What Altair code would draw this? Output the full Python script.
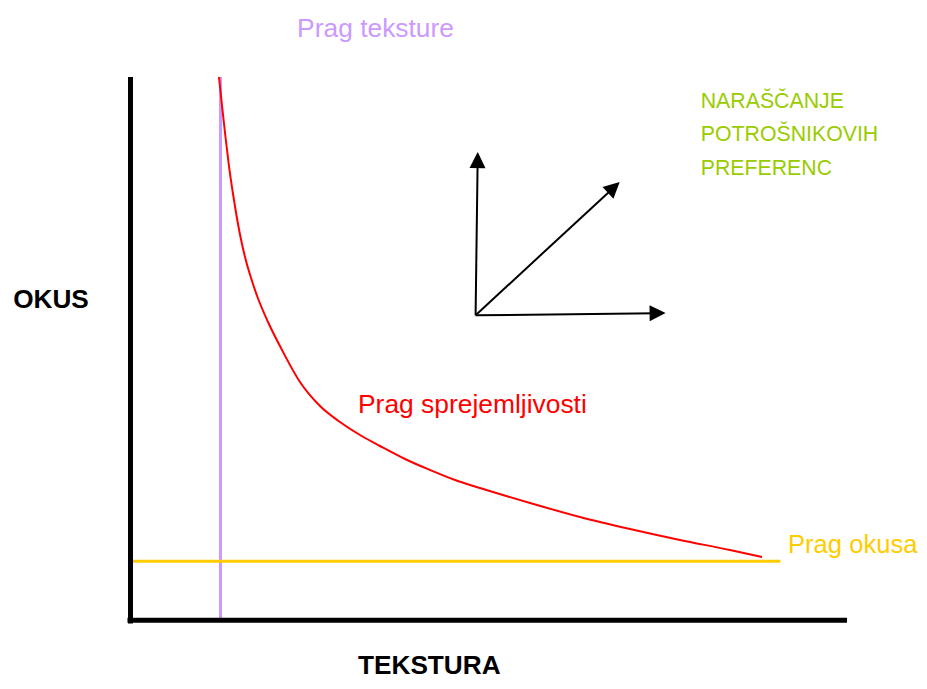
import math
import altair as alt
import pandas as pd

# ---- data (chart units: TEKSTURA 0..100, OKUS 0..100) ----
curve_x = [12.41, 12.90, 13.32, 13.88, 14.57, 15.27, 16.04, 16.88, 17.78, 19.25,
           21.20, 23.71, 26.50, 29.29, 32.08, 34.87, 38.35, 41.84, 45.33, 48.81,
           55.79, 62.76, 69.74, 76.71, 83.68, 88.15]
curve_y = [100.0, 93.93, 88.97, 82.90, 76.84, 71.51, 66.91, 63.05, 59.56, 54.96,
           49.82, 43.93, 39.52, 36.58, 34.19, 32.17, 29.78, 27.76, 25.92, 24.45,
           21.69, 19.12, 16.91, 14.89, 13.05, 11.76]

texture_threshold = 12.62      # Prag teksture (vertical)
texture_line_y = [0.0, 100.0]
taste_threshold = 11.0         # Prag okusa (horizontal)
taste_line_x = [0.3, 90.7]

arrow_origin_x = 48.2
arrow_origin_y = 56.2
arrow_tip_x = [48.5, 68.3, 74.7]
arrow_tip_y = [86.2, 80.7, 56.6]

axis_x_range = [-0.35, 100.0]
axis_y_range = [-0.45, 100.0]

label_texts = ["Prag teksture", "Prag okusa", "Prag sprejemljivosti"]
label_x = [23.3, 91.77, 31.8]
label_y = [107.4, 12.5, 38.2]

pref_lines = ["NARAŠČANJE", "POTROŠNIKOVIH", "PREFERENC"]
pref_x = [79.6, 79.6, 79.6]
pref_y = [94.3, 88.2, 82.0]

axis_titles = ["OKUS", "TEKSTURA"]
axis_title_x = [-16.3, 31.8]
axis_title_y = [57.5, -9.74]

# ---- layout ----
W, H = 717, 544
FONT = "Liberation Sans"

xs = alt.Scale(domain=[0, 100], nice=False, zero=False)
ys = alt.Scale(domain=[0, 100], nice=False, zero=False)

def X(f, **kw):
    return alt.X(f, type="quantitative", scale=xs, axis=None, **kw)

def Y(f, **kw):
    return alt.Y(f, type="quantitative", scale=ys, axis=None, **kw)

# axes frame
axes_df = pd.DataFrame({
    "x": [0.07, axis_x_range[0]],
    "x2": [0.07, axis_x_range[1]],
    "y": [axis_y_range[0], 0.15],
    "y2": [axis_y_range[1], 0.15],
})
axes = alt.Chart(axes_df).mark_rule(color="black", strokeWidth=5, strokeCap="butt").encode(
    x=X("x"), x2="x2", y=Y("y"), y2="y2")

tex_df = pd.DataFrame({"x": [texture_threshold], "y": [texture_line_y[0]], "y2": [texture_line_y[1]]})
tex_line = alt.Chart(tex_df).mark_rule(color="#CC99FF", strokeWidth=3).encode(
    x=X("x"), y=Y("y"), y2="y2")

taste_df = pd.DataFrame({"y": [taste_threshold], "x": [taste_line_x[0]], "x2": [taste_line_x[1]]})
taste_line = alt.Chart(taste_df).mark_rule(color="#FFCC00", strokeWidth=3).encode(
    y=Y("y"), x=X("x"), x2="x2")

curve_df = pd.DataFrame({"x": curve_x, "y": curve_y})
curve = alt.Chart(curve_df).mark_line(color="#FF0000", strokeWidth=2, interpolate="monotone").encode(
    x=X("x"), y=Y("y"))

# arrows
rows = []
for tx, ty in zip(arrow_tip_x, arrow_tip_y):
    dx_px = (tx - arrow_origin_x) * W / 100
    dy_px = (ty - arrow_origin_y) * H / 100
    ang = math.degrees(math.atan2(dx_px, dy_px))
    rows.append({
        "x": arrow_origin_x, "y": arrow_origin_y,
        "x2": arrow_origin_x + 0.95 * (tx - arrow_origin_x),
        "y2": arrow_origin_y + 0.95 * (ty - arrow_origin_y),
        "tx": tx, "ty": ty, "angle": ang,
    })
arrow_df = pd.DataFrame(rows)
shafts = alt.Chart(arrow_df).mark_rule(color="black", strokeWidth=2).encode(
    x=X("x"), y=Y("y"), x2="x2", y2="y2")
heads = alt.Chart(arrow_df).mark_point(
    shape="M0,0L-0.5,1L0.5,1Z", filled=True, color="black", opacity=1, size=1024, strokeWidth=0
).encode(x=X("tx"), y=Y("ty"), angle=alt.Angle("angle:Q", scale=None))

# texts
def text_layer(texts, tx, ty, color, size, weight="normal"):
    df = pd.DataFrame({"t": texts, "x": tx, "y": ty})
    return alt.Chart(df).mark_text(
        align="left", baseline="alphabetic", font=FONT, fontSize=size,
        fontWeight=weight, color=color
    ).encode(x=X("x"), y=Y("y"), text="t:N")

lab_colors = ["#CC99FF", "#FFCC00", "#FF0000"]
lab_sizes = [26.4, 25.6, 26.4]
labels = [text_layer([t], [x], [y], c, s)
          for t, x, y, c, s in zip(label_texts, label_x, label_y, lab_colors, lab_sizes)]
pref = text_layer(pref_lines, pref_x, pref_y, "#99CC00", 21.3)
titles = text_layer(axis_titles, axis_title_x, axis_title_y, "black", 26.2, "bold")

chart = alt.layer(
    tex_line, taste_line, curve, shafts, heads, axes, *labels, pref, titles
).properties(
    width=W, height=H, autosize="none",
    padding={"left": 122, "top": 69, "right": 72, "bottom": 60},
    background="white",
).configure_view(stroke=None)

chart.save("out.html", embed_options={"renderer": "svg", "actions": False})
